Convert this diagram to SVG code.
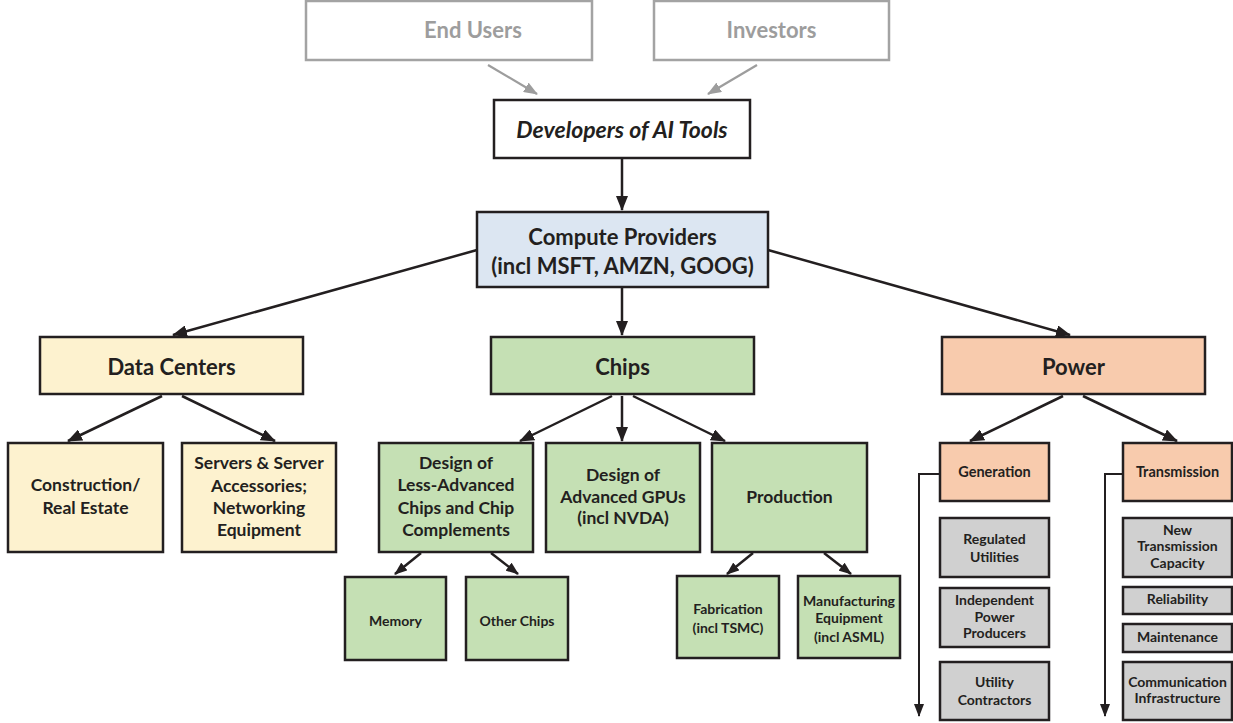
<svg xmlns="http://www.w3.org/2000/svg" width="1233" height="723" viewBox="0 0 1233 723">
<style>
.t{font-family:Lato,"Open Sans","Liberation Sans",sans-serif;font-weight:bold;fill:#231f20;text-anchor:middle}
.b{stroke:#231f20;stroke-width:2.5}
.g{fill:#fff;stroke:#a3a3a3;stroke-width:2.5}
.gt{fill:#9d9d9d}
.c{stroke:#231f20;stroke-width:2.5;fill:none}
.cs{stroke:#231f20;stroke-width:2;fill:none}
.cg{stroke:#9d9d9d;stroke-width:2.2;fill:none}
.blue{fill:#dce6f2}.yel{fill:#fdf2cf}.grn{fill:#c5e0b4}.org{fill:#f8cbad}.gry{fill:#d0d0d0}.wht{fill:#fff}
.f22{font-size:22px}.f17{font-size:17.5px}.f14{font-size:14px}.f13{font-size:14.5px}
</style>
<defs>
<marker id="ah" markerUnits="userSpaceOnUse" viewBox="0 0 15 12" markerWidth="15" markerHeight="12" refX="14" refY="6" orient="auto"><path d="M0,0 L15,6 L0,12 z" fill="#231f20"/></marker>
<marker id="ahs" markerUnits="userSpaceOnUse" viewBox="0 0 13 10" markerWidth="13" markerHeight="10" refX="12" refY="5" orient="auto"><path d="M0,0 L13,5 L0,10 z" fill="#231f20"/></marker>
<marker id="ahg" markerUnits="userSpaceOnUse" viewBox="0 0 14 11" markerWidth="14" markerHeight="11" refX="13" refY="5.5" orient="auto"><path d="M0,0 L14,5.5 L0,11 z" fill="#9d9d9d"/></marker>
</defs>

<g id="connectors">
<line class="cg" x1="488" y1="65" x2="537" y2="94" marker-end="url(#ahg)"/>
<line class="cg" x1="757" y1="65" x2="708" y2="94" marker-end="url(#ahg)"/>
<line class="c" x1="622" y1="159" x2="622" y2="210" marker-end="url(#ah)"/>
<line class="c" x1="477" y1="250" x2="173" y2="335" marker-end="url(#ah)"/>
<line class="c" x1="622" y1="288" x2="622" y2="335" marker-end="url(#ah)"/>
<line class="c" x1="768" y1="250" x2="1070" y2="335" marker-end="url(#ah)"/>
<line class="c" x1="162" y1="396" x2="68" y2="441" marker-end="url(#ah)"/>
<line class="c" x1="182" y1="396" x2="275" y2="441" marker-end="url(#ah)"/>
<line class="c" x1="612" y1="396" x2="520" y2="441" marker-end="url(#ah)"/>
<line class="c" x1="622" y1="396" x2="622" y2="441" marker-end="url(#ah)"/>
<line class="c" x1="633" y1="396" x2="725" y2="441" marker-end="url(#ah)"/>
<line class="c" x1="1063" y1="396" x2="970" y2="441" marker-end="url(#ah)"/>
<line class="c" x1="1083" y1="396" x2="1177" y2="441" marker-end="url(#ah)"/>
<line class="c" x1="421" y1="553" x2="395" y2="574" marker-end="url(#ahs)"/>
<line class="c" x1="491" y1="553" x2="518" y2="574" marker-end="url(#ahs)"/>
<line class="c" x1="753" y1="553" x2="727" y2="574" marker-end="url(#ahs)"/>
<line class="c" x1="824" y1="553" x2="851" y2="574" marker-end="url(#ahs)"/>
<polyline class="cs" points="940,474 919,474 919,716" marker-end="url(#ahs)"/>
<polyline class="cs" points="1123,474 1105,474 1105,716" marker-end="url(#ahs)"/>
</g>

<g id="end-users"><rect class="g" x="306" y="1" width="286" height="59"/><text class="t gt f22" x="473" y="38">End Users</text></g>
<g id="investors"><rect class="g" x="654" y="1" width="235" height="59"/><text class="t gt f22" x="771.5" y="38">Investors</text></g>
<g id="developers"><rect class="b wht" x="494" y="100" width="256" height="58"/><text class="t" x="622" y="138" font-style="italic" font-size="23px">Developers of AI Tools</text></g>
<g id="compute"><rect class="b blue" x="477" y="212" width="291" height="75"/><text class="t f22" x="622.5" y="245">Compute Providers</text><text class="t f22" x="622.5" y="274">(incl MSFT, AMZN, GOOG)</text></g>

<g id="data-centers"><rect class="b yel" x="40" y="337" width="263" height="57"/><text class="t f22" x="171.5" y="375">Data Centers</text></g>
<g id="chips"><rect class="b grn" x="491" y="337" width="263" height="57"/><text class="t f22" x="622.5" y="375">Chips</text></g>
<g id="power"><rect class="b org" x="942" y="337" width="263" height="57"/><text class="t f22" x="1073.5" y="375">Power</text></g>

<g id="construction"><rect class="b yel" x="8" y="443" width="155" height="109"/><text class="t f17" x="85.5" y="491">Construction/</text><text class="t f17" x="85.5" y="514">Real Estate</text></g>
<g id="servers"><rect class="b yel" x="182" y="443" width="154" height="109"/><text class="t f17" x="259" y="469">Servers &amp; Server</text><text class="t f17" x="259" y="492">Accessories;</text><text class="t f17" x="259" y="514">Networking</text><text class="t f17" x="259" y="536">Equipment</text></g>

<g id="design-less"><rect class="b grn" x="379" y="443" width="154" height="109"/><text class="t f17" x="456" y="469">Design of</text><text class="t f17" x="456" y="491">Less-Advanced</text><text class="t f17" x="456" y="514">Chips and Chip</text><text class="t f17" x="456" y="536">Complements</text></g>
<g id="design-gpu"><rect class="b grn" x="546" y="443" width="154" height="109"/><text class="t f17" x="623" y="481">Design of</text><text class="t f17" x="623" y="503">Advanced GPUs</text><text class="t f17" x="623" y="524">(incl NVDA)</text></g>
<g id="production"><rect class="b grn" x="712" y="443" width="155" height="109"/><text class="t f17" x="789.5" y="503">Production</text></g>

<g id="memory"><rect class="b grn" x="345" y="577" width="101" height="83"/><text class="t f14" x="395.5" y="626">Memory</text></g>
<g id="other-chips"><rect class="b grn" x="466" y="577" width="102" height="83"/><text class="t f14" x="517" y="626">Other Chips</text></g>
<g id="fabrication"><rect class="b grn" x="677" y="576" width="102" height="82"/><text class="t f14" x="728" y="614">Fabrication</text><text class="t f14" x="728" y="633">(incl TSMC)</text></g>
<g id="manufacturing"><rect class="b grn" x="798" y="576" width="102" height="82"/><text class="t f14" x="849" y="606">Manufacturing</text><text class="t f14" x="849" y="623">Equipment</text><text class="t f14" x="849" y="642">(incl ASML)</text></g>

<g id="generation"><rect class="b org" x="940" y="443" width="109" height="58"/><text class="t f13" x="994.5" y="477">Generation</text></g>
<g id="transmission"><rect class="b org" x="1123" y="443" width="109" height="58"/><text class="t f13" x="1177.5" y="477">Transmission</text></g>

<g id="regulated"><rect class="b gry" x="940" y="518" width="109" height="59"/><text class="t f14" x="994.5" y="544">Regulated</text><text class="t f14" x="994.5" y="562">Utilities</text></g>
<g id="ipp"><rect class="b gry" x="940" y="588" width="109" height="59"/><text class="t f14" x="994.5" y="605">Independent</text><text class="t f14" x="994.5" y="622">Power</text><text class="t f14" x="994.5" y="638">Producers</text></g>
<g id="contractors"><rect class="b gry" x="940" y="662" width="109" height="58"/><text class="t f14" x="994.5" y="687">Utility</text><text class="t f14" x="994.5" y="705">Contractors</text></g>
<g id="new-transmission"><rect class="b gry" x="1123" y="518" width="109" height="59"/><text class="t f14" x="1177.5" y="535">New</text><text class="t f14" x="1177.5" y="551">Transmission</text><text class="t f14" x="1177.5" y="568">Capacity</text></g>
<g id="reliability"><rect class="b gry" x="1123" y="587" width="109" height="27"/><text class="t f14" x="1177.5" y="604">Reliability</text></g>
<g id="maintenance"><rect class="b gry" x="1123" y="624" width="109" height="28"/><text class="t f14" x="1177.5" y="642">Maintenance</text></g>
<g id="communication"><rect class="b gry" x="1123" y="662" width="109" height="58"/><text class="t f14" x="1177.5" y="687">Communication</text><text class="t f14" x="1177.5" y="703">Infrastructure</text></g>
</svg>
